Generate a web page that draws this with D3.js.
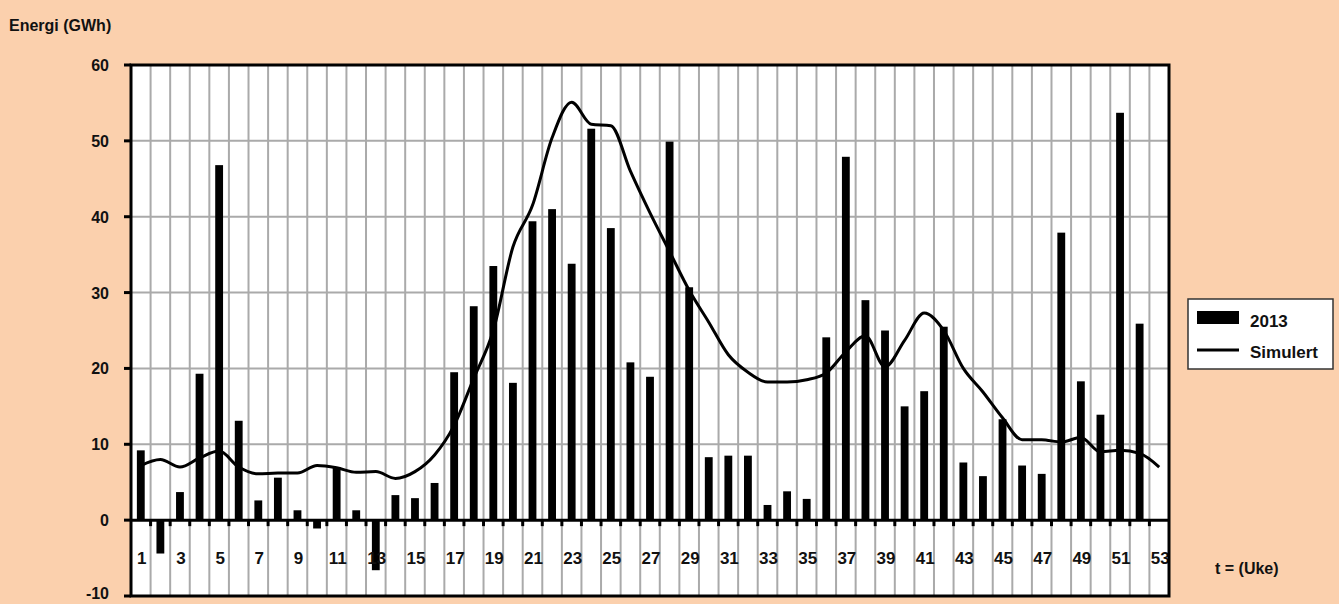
<!DOCTYPE html>
<html>
<head>
<meta charset="utf-8">
<script src="https://cdn.jsdelivr.net/npm/d3@7"></script>
<style>
  body { margin: 0; background: #fbd0ad; }
  svg text { font-family: "Liberation Sans Narrow", "Liberation Sans", Arial, sans-serif; font-weight: bold; fill: #111; }
</style>
</head>
<body>
<div id="chart"></div>
<script>
// weeks 1..53
weeks = d3.range(1, 54)
yTicks = [-10, 0, 10, 20, 30, 40, 50, 60]

// measured 2013 energy (GWh), week 53 empty
actual2013 = [9.2, -4.4, 3.7, 19.3, 46.8, 13.1, 2.6, 5.6, 1.3, -1.1,
  7.0, 1.3, -6.6, 3.3, 2.9, 4.9, 19.5, 28.2, 33.5, 18.1,
  39.4, 41.0, 33.8, 51.6, 38.5, 20.8, 18.9, 49.9, 30.7, 8.3,
  8.5, 8.5, 2.0, 3.8, 2.8, 24.1, 47.9, 29.0, 25.0, 15.0,
  17.0, 25.5, 7.6, 5.8, 13.3, 7.2, 6.1, 37.9, 18.3, 13.9,
  53.7, 25.9, 0]

// simulated energy (GWh)
simulert = [7.2, 8.0, 7.0, 8.2, 9.1, 7.0, 6.1, 6.2, 6.2, 7.2,
  6.9, 6.3, 6.4, 5.5, 6.4, 8.6, 12.5, 18.7, 25.0, 36.0,
  41.5, 50.4, 55.1, 52.2, 52.0, 46.0, 40.5, 35.4, 30.3, 26.1,
  21.8, 19.5, 18.2, 18.2, 18.5, 19.4, 22.2, 24.3, 20.2, 23.7,
  27.3, 25.0, 20.0, 16.9, 13.5, 10.6, 10.6, 10.3, 10.9, 9.0,
  9.2, 8.8, 7.0]

margin = {top: 65, right: 170, bottom: 8, left: 131}
W = 1339, H = 604
width = W - margin.left - margin.right
height = H - margin.top - margin.bottom

svg = d3.select("#chart").append("svg")
  .attr("width", W).attr("height", H)
g = svg.append("g").attr("transform", `translate(${margin.left}, ${margin.top})`)

x = d3.scaleBand().domain(weeks).range([0, width])
y = d3.scaleLinear().domain([-10, 60]).range([height, 0])

g.append("rect").attr("width", width).attr("height", height).attr("fill", "white")

// vertical grid at category boundaries
g.selectAll(".vgrid")
  .data(weeks.slice(1))
  .join("line")
    .attr("x1", d => x(d)).attr("x2", d => x(d))
    .attr("y1", 0).attr("y2", height)
    .attr("stroke", "#aaa").attr("stroke-width", 2)

// horizontal grid
g.selectAll(".hgrid")
  .data(yTicks.filter(d => d > 0 && d < 60))
  .join("line")
    .attr("x1", 0).attr("x2", width)
    .attr("y1", d => y(d)).attr("y2", d => y(d))
    .attr("stroke", "#aaa").attr("stroke-width", 2)

// bars
g.selectAll(".bar")
  .data(weeks)
  .join("rect")
    .attr("x", d => x(d) + x.bandwidth() * 0.3)
    .attr("width", x.bandwidth() * 0.4)
    .attr("y", (d, i) => y(Math.max(0, actual2013[i])))
    .attr("height", (d, i) => Math.abs(y(actual2013[i]) - y(0)))
    .attr("fill", "black")

// zero axis with ticks below
g.append("line")
  .attr("x1", 0).attr("x2", width)
  .attr("y1", y(0)).attr("y2", y(0))
  .attr("stroke", "black").attr("stroke-width", 3)
g.selectAll(".xtick")
  .data(weeks.slice(1))
  .join("line")
    .attr("x1", d => x(d)).attr("x2", d => x(d))
    .attr("y1", y(0)).attr("y2", y(0) + 6)
    .attr("stroke", "black").attr("stroke-width", 3)

g.selectAll(".xlabel")
  .data(weeks.filter(d => d % 2 == 1))
  .join("text")
    .attr("x", d => x(d) + x.bandwidth() / 2 + 1)
    .attr("y", y(0) + 44)
    .attr("text-anchor", "middle")
    .style("font-size", "17px")
    .text(d => d)

// simulated line
line = d3.line()
  .x((d, i) => x(weeks[i]) + x.bandwidth() / 2)
  .y(d => y(d))
  .curve(d3.curveMonotoneX)
g.append("path")
  .datum(simulert)
  .attr("d", line)
  .attr("fill", "none")
  .attr("stroke", "black")
  .attr("stroke-width", 3)
  .attr("stroke-linejoin", "round")

// frame
g.append("rect").attr("width", width).attr("height", height)
  .attr("fill", "none").attr("stroke", "black").attr("stroke-width", 3)

// y axis ticks + labels
g.selectAll(".ytick")
  .data(yTicks)
  .join("line")
    .attr("x1", -7).attr("x2", 0)
    .attr("y1", d => y(d)).attr("y2", d => y(d))
    .attr("stroke", "black").attr("stroke-width", 3)
g.selectAll(".ylabel")
  .data(yTicks)
  .join("text")
    .attr("x", -22).attr("y", d => y(d) + (d == -10 ? 3 : 6))
    .attr("text-anchor", "end")
    .style("font-size", "16px")
    .text(d => d)

svg.append("text").attr("x", 9).attr("y", 31)
  .style("font-size", "16px").text("Energi (GWh)")
svg.append("text").attr("x", 1215).attr("y", 574)
  .style("font-size", "16px").text("t = (Uke)")

// legend
leg = svg.append("g").attr("transform", "translate(1188, 299)")
leg.append("rect").attr("width", 145).attr("height", 70)
  .attr("fill", "white").attr("stroke", "#333").attr("stroke-width", 1.5)
leg.append("rect").attr("x", 9).attr("y", 12).attr("width", 42).attr("height", 13).attr("fill", "black")
leg.append("line").attr("x1", 9).attr("x2", 51).attr("y1", 51).attr("y2", 51)
  .attr("stroke", "black").attr("stroke-width", 3)
leg.append("text").attr("x", 62).attr("y", 28).style("font-size", "17px").text("2013")
leg.append("text").attr("x", 62).attr("y", 59).style("font-size", "17px").text("Simulert")
</script>
</body>
</html>
